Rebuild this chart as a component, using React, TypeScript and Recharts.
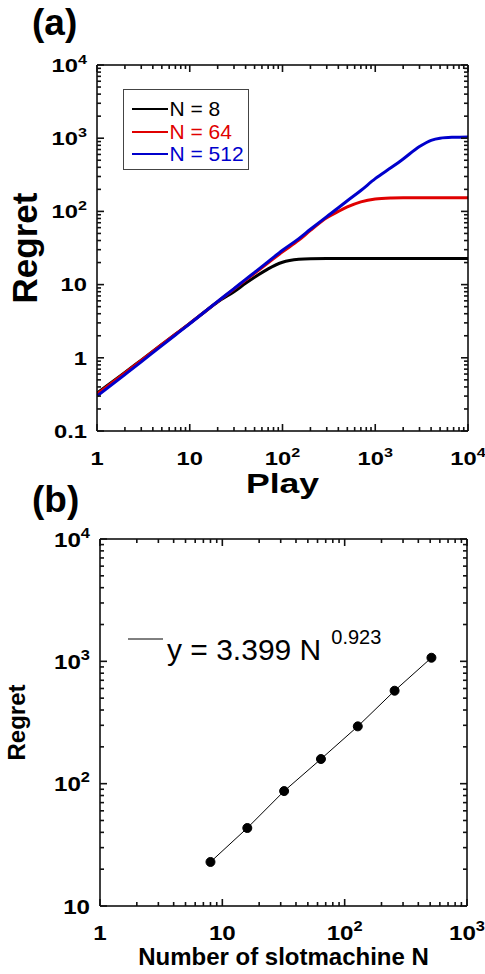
import { LineChart, Line, XAxis, YAxis, Legend } from 'recharts';

// (a) regret against play count
const plays = [1, 2, 3, 5, 7, 10, 15, 20, 30, 40, 50, 70, 100, 150, 200, 300, 400, 500, 700, 1000, 1500, 2000, 3000, 4000, 5000, 7000, 10000];
const regretN8 = [0.33, 0.63, 0.93, 1.52, 2.1, 2.95, 4.4, 5.8, 8.0, 10.4, 12.6, 16.4, 20.2, 22.2, 22.6, 22.7, 22.7, 22.7, 22.7, 22.7, 22.7, 22.7, 22.7, 22.7, 22.7, 22.7, 22.7];
const regretN64 = [0.32, 0.62, 0.92, 1.52, 2.1, 2.95, 4.4, 5.85, 8.7, 11.5, 14.3, 19.8, 28, 40.5, 55, 82, 100, 115, 135, 148, 153, 154, 154, 154, 154, 154, 154];
const regretN512 = [0.3, 0.59, 0.88, 1.47, 2.05, 2.92, 4.4, 5.9, 8.8, 11.8, 14.7, 20.6, 29.5, 42.5, 57, 85, 112, 140, 193, 280, 400, 520, 770, 935, 1000, 1030, 1040];
const seriesNames = ['N = 8', 'N = 64', 'N = 512'];
const seriesColors = ['#000000', '#e00000', '#0000cc'];

// (b) final regret against number of slot machines
const slotCounts = [8, 16, 32, 64, 128, 256, 512];
const finalRegret = [22.9, 43.4, 87, 159, 294, 575, 1070];
const fitLabel = 'y = 3.399 N';
const fitExponent = '0.923';

// decade ticks
const playTicks = [1, 10, 100, 1000, 10000];
const regretTicksA = [0.1, 1, 10, 100, 1000, 10000];
const slotTicks = [1, 10, 100, 1000];
const regretTicksB = [10, 100, 1000, 10000];

const FONT = '"Liberation Sans", Arial, sans-serif';

const withMinors = (decades: number[]) => {
  const out: number[] = [];
  decades.forEach((d, i) => {
    out.push(d);
    if (i < decades.length - 1) {
      for (let k = 2; k < 10; k++) out.push(+(d * k).toPrecision(3));
    }
  });
  return out;
};

const isDecade = (v: number) => {
  const l = Math.log10(v);
  return Math.abs(l - Math.round(l)) < 1e-6;
};

const dataA = plays.map((t, i) => ({ t, n8: regretN8[i], n64: regretN64[i], n512: regretN512[i] }));
const dataB = slotCounts.map((n, i) => ({ n, regret: finalRegret[i] }));

type Side = 'bottom' | 'top' | 'left' | 'right';

function LogTick(props: any) {
  const { x = 0, y = 0, payload, side, labeled, fontSize = 19, stretch = 1 } = props as {
    x: number; y: number; payload: { value: number }; side: Side; labeled: boolean; fontSize: number; stretch: number;
  };
  const v = payload?.value ?? 1;
  const major = isDecade(v);
  const len = major ? 7 : 4;
  let x2 = x;
  let y2 = y;
  if (side === 'bottom') y2 = y - len;
  else if (side === 'top') y2 = y + len;
  else if (side === 'left') x2 = x + len;
  else x2 = x - len;

  let label = null;
  if (labeled && major) {
    const exp = Math.round(Math.log10(v));
    const content =
      exp >= 2 ? (
        <>
          10
          <tspan fontSize={fontSize * 0.68} dy={-fontSize * 0.42}>
            {exp}
          </tspan>
        </>
      ) : (
        String(v)
      );
    const tx = side === 'bottom' ? x : x - 10;
    const ty = side === 'bottom' ? y + 34 : y + fontSize * 0.36;
    label = (
      <g transform={`translate(${tx},${ty})`}>
        <text
          transform={`scale(${stretch},1)`}
          textAnchor={side === 'bottom' ? 'middle' : 'end'}
          fontSize={fontSize}
          fontWeight="bold"
          fontFamily={FONT}
          fill="#000"
        >
          {content}
        </text>
      </g>
    );
  }
  return (
    <g>
      <path d={`M${x},${y}L${x2},${y2}`} stroke="#111" strokeWidth={1.6} />
      {label}
    </g>
  );
}

// axis title; `shift` is the distance from the axis line to the text baseline
function AxisTitle(props: any) {
  const { viewBox, text, kind, shift, fontSize, stretch = 1 } = props;
  const vb = viewBox || { x: 0, y: 0, width: 0, height: 0 };
  if (kind === 'x') {
    return (
      <text
        transform={`translate(${vb.x + vb.width / 2},${vb.y + shift}) scale(${stretch},1)`}
        textAnchor="middle"
        fontSize={fontSize}
        fontWeight="bold"
        fontFamily={FONT}
        fill="#000"
      >
        {text}
      </text>
    );
  }
  return (
    <text
      transform={`translate(${vb.x + vb.width - shift},${vb.y + vb.height / 2}) rotate(-90)`}
      textAnchor="middle"
      fontSize={fontSize}
      fontWeight="bold"
      fontFamily={FONT}
      fill="#000"
    >
      {text}
    </text>
  );
}

function SeriesLegend({ payload }: any) {
  const items = [...(payload || [])].sort(
    (a: any, b: any) => seriesNames.indexOf(a.value) - seriesNames.indexOf(b.value)
  );
  return (
    <div
      style={{
        boxSizing: 'border-box',
        width: 126,
        height: 81,
        border: '1.5px solid #444',
        background: '#fff',
        paddingTop: 8,
        paddingLeft: 7.5,
        fontFamily: FONT,
      }}
    >
      {items.map((item: any) => (
        <div key={item.value} style={{ display: 'flex', alignItems: 'center', height: 22.5 }}>
          <span style={{ width: 36, height: 0, borderTop: `2px solid ${item.color}`, marginRight: 2 }} />
          <span style={{ color: item.color, fontSize: 21, lineHeight: '22px' }}>{item.value}</span>
        </div>
      ))}
    </div>
  );
}

function FitLegend() {
  return (
    <svg width={300} height={52} style={{ display: 'block', overflow: 'visible' }}>
      <line x1={3} x2={38} y1={19} y2={19} stroke="#000" strokeWidth={1} />
      <text x={42} y={40} fontSize={30} fontFamily={FONT} fill="#000">
        {fitLabel}
        <tspan dx={10} dy={-16} fontSize={20}>
          {fitExponent}
        </tspan>
      </text>
    </svg>
  );
}

const frame = { stroke: '#000', strokeWidth: 1.5 };

export default function App() {
  const ticksA = withMinors(playTicks);
  const ticksAY = withMinors(regretTicksA);
  const ticksB = withMinors(slotTicks);
  const ticksBY = withMinors(regretTicksB);
  const lineKeys = ['n8', 'n64', 'n512'];

  const panelLetter = (text: string, top: number) => (
    <div
      style={{
        position: 'absolute',
        left: 32,
        top,
        fontSize: 37,
        lineHeight: '37px',
        fontWeight: 'bold',
        fontFamily: FONT,
      }}
    >
      {text}
    </div>
  );

  return (
    <div style={{ position: 'absolute', left: 0, top: 0, width: 485, height: 974, background: '#fff', overflow: 'hidden' }}>
      <div style={{ position: 'absolute', left: 0, top: 0 }}>
        <LineChart width={485} height={505} data={dataA} margin={{ top: 64, right: 16, bottom: 73, left: 96 }}>
          <XAxis
            dataKey="t"
            type="number"
            scale="log"
            domain={[1, 10000]}
            allowDataOverflow
            ticks={ticksA}
            interval={0}
            height={1}
            tickSize={0}
            tickMargin={0}
            tickLine={false}
            axisLine={frame}
            tick={(p: any) => <LogTick {...p} side="bottom" labeled fontSize={19} stretch={1.25} />}
            label={<AxisTitle text="Play" kind="x" shift={62} fontSize={28} stretch={1.27} />}
          />
          <XAxis
            xAxisId="top"
            orientation="top"
            dataKey="t"
            type="number"
            scale="log"
            domain={[1, 10000]}
            allowDataOverflow
            ticks={ticksA}
            interval={0}
            height={1}
            tickSize={0}
            tickMargin={0}
            tickLine={false}
            axisLine={frame}
            tick={(p: any) => <LogTick {...p} side="top" labeled={false} />}
          />
          <YAxis
            type="number"
            scale="log"
            domain={[0.1, 10000]}
            allowDataOverflow
            ticks={ticksAY}
            interval={0}
            width={1}
            tickSize={0}
            tickMargin={0}
            tickLine={false}
            axisLine={frame}
            tick={(p: any) => <LogTick {...p} side="left" labeled fontSize={19} stretch={1.25} />}
            label={<AxisTitle text="Regret" kind="y" shift={60} fontSize={35} />}
          />
          <YAxis
            yAxisId="right"
            orientation="right"
            type="number"
            scale="log"
            domain={[0.1, 10000]}
            allowDataOverflow
            ticks={ticksAY}
            interval={0}
            width={1}
            tickSize={0}
            tickMargin={0}
            tickLine={false}
            axisLine={frame}
            tick={(p: any) => <LogTick {...p} side="right" labeled={false} />}
          />
          {lineKeys.map((k, i) => (
            <Line
              key={k}
              dataKey={k}
              name={seriesNames[i]}
              stroke={seriesColors[i]}
              strokeWidth={3}
              type="monotone"
              dot={false}
              isAnimationActive={false}
            />
          ))}
          <Legend
            layout="vertical"
            align="center"
            verticalAlign="middle"
            wrapperStyle={{ left: 123, top: 89, width: 126, height: 81 }}
            content={(p: any) => <SeriesLegend payload={p.payload} />}
          />
        </LineChart>
      </div>

      <div style={{ position: 'absolute', left: 0, top: 490 }}>
        <LineChart width={485} height={484} data={dataB} margin={{ top: 48, right: 17, bottom: 67, left: 99 }}>
          <XAxis
            dataKey="n"
            type="number"
            scale="log"
            domain={[1, 1000]}
            allowDataOverflow
            ticks={ticksB}
            interval={0}
            height={1}
            tickSize={0}
            tickMargin={0}
            tickLine={false}
            axisLine={frame}
            tick={(p: any) => <LogTick {...p} side="bottom" labeled fontSize={21} stretch={1.15} />}
            label={<AxisTitle text="Number of slotmachine N" kind="x" shift={59} fontSize={24} />}
          />
          <XAxis
            xAxisId="top"
            orientation="top"
            dataKey="n"
            type="number"
            scale="log"
            domain={[1, 1000]}
            allowDataOverflow
            ticks={ticksB}
            interval={0}
            height={1}
            tickSize={0}
            tickMargin={0}
            tickLine={false}
            axisLine={frame}
            tick={(p: any) => <LogTick {...p} side="top" labeled={false} />}
          />
          <YAxis
            type="number"
            scale="log"
            domain={[10, 10000]}
            allowDataOverflow
            ticks={ticksBY}
            interval={0}
            width={1}
            tickSize={0}
            tickMargin={0}
            tickLine={false}
            axisLine={frame}
            tick={(p: any) => <LogTick {...p} side="left" labeled fontSize={21} stretch={1.15} />}
            label={<AxisTitle text="Regret" kind="y" shift={75} fontSize={24} />}
          />
          <YAxis
            yAxisId="right"
            orientation="right"
            type="number"
            scale="log"
            domain={[10, 10000]}
            allowDataOverflow
            ticks={ticksBY}
            interval={0}
            width={1}
            tickSize={0}
            tickMargin={0}
            tickLine={false}
            axisLine={frame}
            tick={(p: any) => <LogTick {...p} side="right" labeled={false} />}
          />
          <Line
            dataKey="regret"
            name="fit"
            stroke="#000"
            strokeWidth={1}
            type="linear"
            dot={{ r: 4.5, fill: '#000', stroke: '#000', strokeWidth: 1 }}
            isAnimationActive={false}
          />
          <Legend
            layout="vertical"
            align="center"
            verticalAlign="middle"
            wrapperStyle={{ left: 125, top: 130, width: 300, height: 52 }}
            content={() => <FitLegend />}
          />
        </LineChart>
      </div>

      {panelLetter('(a)', 4)}
      {panelLetter('(b)', 481)}
    </div>
  );
}
